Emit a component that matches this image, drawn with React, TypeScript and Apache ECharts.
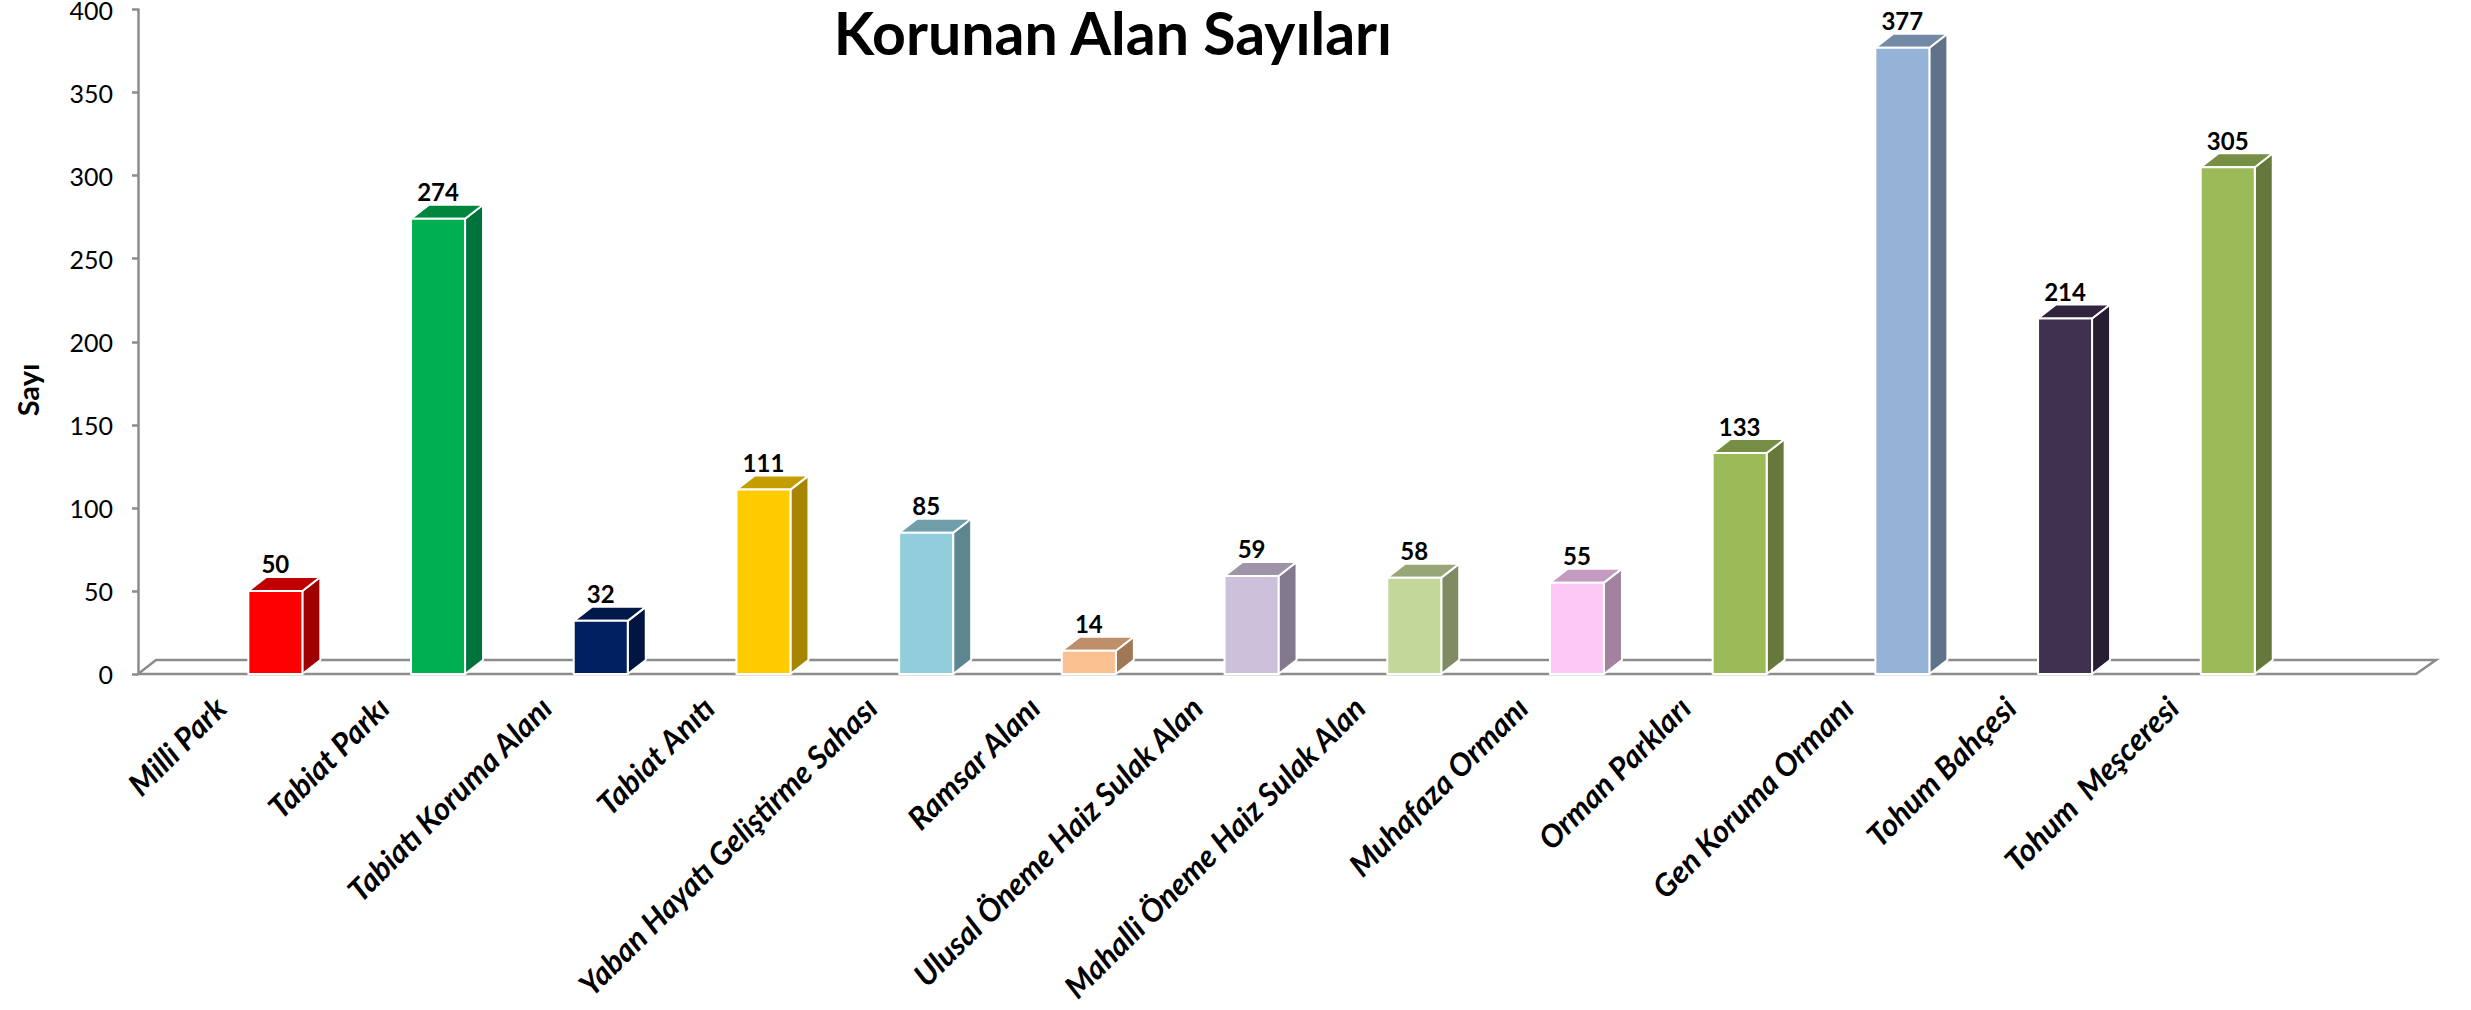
import React, { useEffect, useRef } from 'react';
import * as echarts from 'echarts';

// ---- data ----
const chartTitle = 'Korunan Alan Sayıları';
const yAxisName = 'Sayı';
const categories = [
  'Milli Park',
  'Tabiat Parkı',
  'Tabiatı Koruma Alanı',
  'Tabiat Anıtı',
  'Yaban Hayatı Geliştirme Sahası',
  'Ramsar Alanı',
  'Ulusal Öneme Haiz Sulak Alan',
  'Mahalli Öneme Haiz Sulak Alan',
  'Muhafaza Ormanı',
  'Orman Parkları',
  'Gen Koruma Ormanı',
  'Tohum Bahçesi',
  'Tohum  Meşceresi',
];
const counts = [50, 274, 32, 111, 85, 14, 59, 58, 55, 133, 377, 214, 305];
const yMin = 0;
const yMax = 400;
const yStep = 50;

// ---- styles ----
const frontColors = ['#FF0000', '#00B050', '#002060', '#FFCC00', '#92CDDC', '#FAC090', '#CCC0DA', '#C4D79B', '#FDC8F6', '#9BBB59', '#95B3D7', '#403151', '#9BBB59'];
const topColors = ['#C00000', '#00873D', '#00194A', '#C49E00', '#709EAA', '#BF8F6A', '#9D94A8', '#97A677', '#C49BC0', '#778F44', '#728AA5', '#30253D', '#778F44'];
const sideColors = ['#A00000', '#00733A', '#001540', '#A88500', '#5E8690', '#A07858', '#82798E', '#7F8B62', '#A4819F', '#66793A', '#5F7289', '#271E33', '#66793A'];

// ---- layout ----
const W = 2471;
const H = 1010;
const plotTop = 9.5;
const plotBottom = 674;
const barGridLeft = 194;
const bandWidth = 162.7;
const labelShift = 55;
const depthX = 18;
const depthY = 14;
const axisX = 138;
const floorRight = 2416;
const gray = '#8C8C8C';
const font = 'Lato, "Open Sans", sans-serif';

export default function App() {
  const ref = useRef<HTMLDivElement>(null);
  useEffect(() => {
    document.body.style.margin = '0';
    const chart = echarts.init(ref.current!, undefined, { renderer: 'svg' });
    const plotH = plotBottom - plotTop;
    const gridW = bandWidth * categories.length;
    const option: any = {
      animation: false,
      backgroundColor: '#ffffff',
      grid: [
        { left: barGridLeft, top: plotTop, width: gridW, height: plotH, outerBoundsMode: 'none', containLabel: false },
        { left: barGridLeft - labelShift, top: plotTop, width: gridW, height: plotH, outerBoundsMode: 'none', containLabel: false },
      ],
      xAxis: [
        { type: 'category', gridIndex: 0, data: categories, show: false },
        {
          type: 'category', gridIndex: 1, data: categories,
          axisLine: { show: false }, axisTick: { show: false }, splitLine: { show: false },
          axisLabel: {
            interval: 0, rotate: 45, margin: 28,
            fontFamily: font, fontWeight: 'bold', fontStyle: 'italic', fontSize: 31, color: '#000',
          },
        },
      ],
      yAxis: [
        { type: 'value', gridIndex: 0, min: yMin, max: yMax, interval: yStep, show: false },
        {
          type: 'value', gridIndex: 1, min: yMin, max: yMax, interval: yStep,
          offset: barGridLeft - labelShift - axisX,
          axisLine: { show: true, lineStyle: { color: gray, width: 2.5 } },
          axisTick: { show: true, length: 6, lineStyle: { color: gray, width: 2.5 } },
          splitLine: { show: false },
          axisLabel: { margin: 25, fontFamily: font, fontSize: 25, color: '#000' },
        },
      ],
      graphic: [
        {
          type: 'polygon', z: 1, silent: true,
          shape: { points: [[axisX, plotBottom], [floorRight, plotBottom], [floorRight + 20, plotBottom - depthY], [axisX + depthX, plotBottom - depthY]] },
          style: { fill: 'none', stroke: gray, lineWidth: 2.5 },
        },
        {
          type: 'text', x: 1113, y: 32, z: 10,
          style: { text: chartTitle, align: 'center', verticalAlign: 'middle', font: `bold 59px ${font}`, fill: '#000' },
        },
        {
          type: 'text', x: 27, y: 390, rotation: Math.PI / 2, z: 10,
          style: { text: yAxisName, align: 'center', verticalAlign: 'middle', font: `bold 29px ${font}`, fill: '#000' },
        },
      ],
      series: [
        {
          type: 'custom', xAxisIndex: 0, yAxisIndex: 0, z: 5,
          data: counts.map((v, i) => [i, v]),
          renderItem: (params: any, api: any) => {
            const idx = params.dataIndex;
            const i = api.value(0);
            const v = api.value(1);
            const base = api.coord([i, 0]);
            const top = api.coord([i, v]);
            const band = api.size([1, 0])[0];
            const w = band * 0.332;
            const x0 = base[0] - w / 2;
            const x1 = base[0] + w / 2;
            const yT = top[1];
            const yB = base[1];
            const st = { stroke: '#ffffff', lineWidth: 2, lineJoin: 'round' };
            return {
              type: 'group',
              children: [
                { type: 'polygon', shape: { points: [[x1, yB], [x1 + depthX, yB - depthY], [x1 + depthX, yT - depthY], [x1, yT]] }, style: { fill: sideColors[idx], ...st } },
                { type: 'polygon', shape: { points: [[x0, yT], [x0 + depthX, yT - depthY], [x1 + depthX, yT - depthY], [x1, yT]] }, style: { fill: topColors[idx], ...st } },
                { type: 'rect', shape: { x: x0, y: yT, width: w, height: yB - yT }, style: { fill: frontColors[idx], ...st } },
                { type: 'text', style: { text: String(v), x: base[0], y: yT - 27, align: 'center', verticalAlign: 'middle', fill: '#000', font: `bold 24px ${font}` } },
              ],
            };
          },
        },
      ],
    };
    chart.setOption(option);
    return () => chart.dispose();
  }, []);
  return <div ref={ref} style={{ width: W, height: H }} />;
}
